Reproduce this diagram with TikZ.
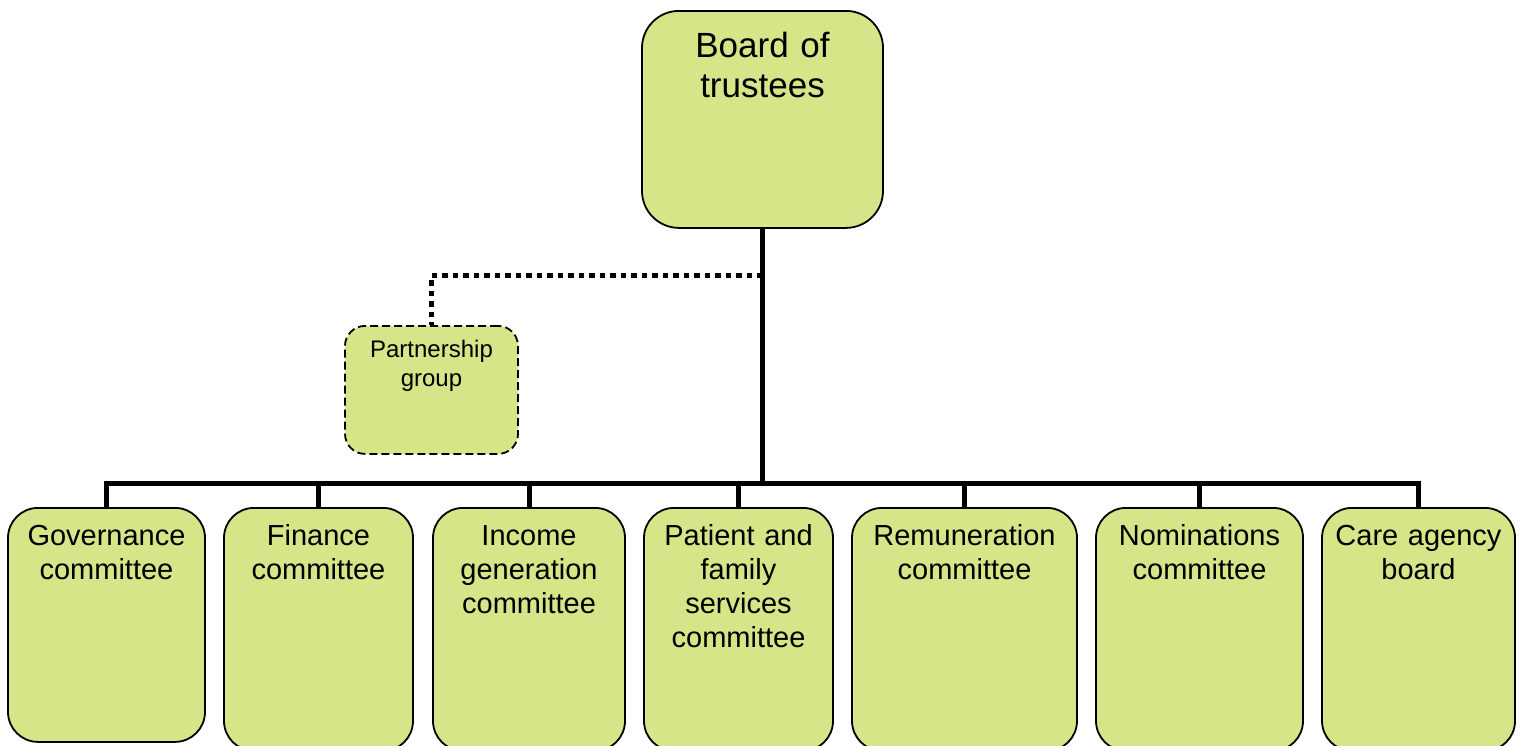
\documentclass[tikz,border=0pt]{standalone}
\usepackage{fontspec}
\setmainfont{Liberation Sans}
\definecolor{boxgreen}{RGB}{215,228,135}
\begin{document}
\begin{tikzpicture}[x=1pt,y=-1pt,
    box/.style={draw,fill=boxgreen,line width=1.8pt,anchor=north,inner sep=0pt,align=center},
    bigbox/.style={box,rounded corners=37pt,text width=241pt,text height=47pt,text depth=170pt,font=\fontsize{35}{40}\selectfont},
    smallbox/.style={box,dashed,dash pattern=on 8pt off 4pt,rounded corners=20pt,text width=173pt,text height=32pt,text depth=96pt,font=\fontsize{24}{28.5}\selectfont},
    combox/.style={box,rounded corners=30pt,text height=38pt,text depth=205pt,font=\fontsize{29}{34}\selectfont}]
      \clip (0,0) rectangle (1521,745);
      \path
        (762.5,10) node[bigbox] (board){Board of\\trustees}
        (431.5,325) node[smallbox] (pg){Partnership\\group}
        (106.5,507) node[combox,text width=197pt,text depth=196pt] (gov){Governance\\committee}
        (318.5,507) node[combox,text width=189pt] (fin){Finance\\committee}
        (529,507) node[combox,text width=192pt] (inc){Income\\generation\\committee}
        (738.5,507) node[combox,text width=189pt] (pat){Patient and\\family\\services\\committee}
        (964.5,507) node[combox,text width=225pt] (rem){Remuneration\\committee}
        (1199.5,507) node[combox,text width=207pt] (nom){Nominations\\committee}
        (1418.5,507) node[combox,text width=193pt] (care){Care agency\\board};
      \coordinate (bus) at (762.5,483);
      \coordinate (split) at (762.5,275);
      \begin{scope}[line width=5pt]
        \draw (board) -- (bus);
        \draw (gov) |- (bus);
        \draw (fin) |- (bus);
        \draw (inc) |- (bus);
        \draw (pat) |- (bus);
        \draw (rem) |- (bus);
        \draw (nom) |- (bus);
        \draw (care) |- (bus);
        \draw[dash pattern=on 5.5pt off 5pt] (split) -| (pg);
      \end{scope}
    \end{tikzpicture}
\end{document}
